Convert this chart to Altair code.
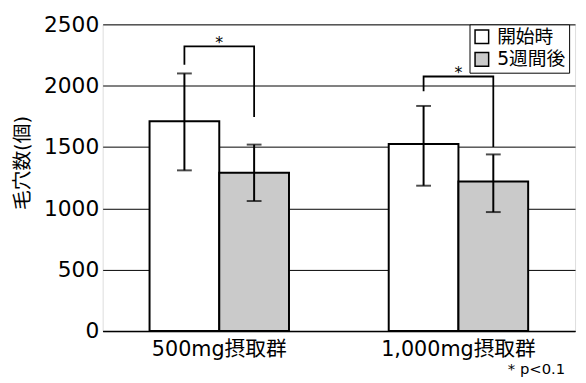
import altair as alt
import pandas as pd

groups = ["500mg摂取群", "1,000mg摂取群"]
periods = ["開始時", "5週間後"]
means = [1710, 1290, 1525, 1220]
err_low = [1310, 1060, 1185, 970]
err_high = [2100, 1520, 1835, 1440]
bracket_top = [2320, 2075]
bracket_left_end = [2170, 1955]
bracket_right_end = [1745, 1500]
star_y = [2350, 2105]
y_ticks = [0, 500, 1000, 1500, 2000, 2500]

FONT = "DejaVu Sans, Noto Sans CJK JP"

rows = []
for i, g in enumerate(groups):
    for j, p in enumerate(periods):
        k = i * 2 + j
        rows.append(dict(group=g, period=p, mean=means[k], lo=err_low[k], hi=err_high[k]))
bars_df = pd.DataFrame(rows)

br = []
for i, g in enumerate(groups):
    br += [
        dict(group=g, period=periods[0], v=bracket_left_end[i], o=0, b=i),
        dict(group=g, period=periods[0], v=bracket_top[i], o=1, b=i),
        dict(group=g, period=periods[1], v=bracket_top[i], o=2, b=i),
        dict(group=g, period=periods[1], v=bracket_right_end[i], o=3, b=i),
    ]
br_df = pd.DataFrame(br)
star_df = pd.DataFrame(dict(group=groups, v=star_y, s=["*", "*"]))

xscale = alt.Scale(domain=groups, paddingInner=0.417, paddingOuter=0.196)
xaxis = alt.Axis(title=None, labelAngle=0, labelFontSize=21, labelFont=FONT,
                 labelColor="black", ticks=False, domainColor="black",
                 domainWidth=1.5, labelPadding=8)
yscale = alt.Scale(domain=[0, 2500], nice=False)
yaxis = alt.Axis(values=y_ticks, format="d", title="毛穴数(個)", titleFont=FONT, titleFontSize=20,
                 titleFontWeight="normal", titleColor="black", titleAngle=-90,
                 titleX=-81, titleY=140, titleAlign="center", titleBaseline="middle",
                 labelFont=FONT, labelFontSize=22, labelColor="black", labelPadding=4,
                 grid=True, gridColor="black", gridWidth=1, ticks=False, domain=False)
xo = alt.XOffset("period:N", sort=periods, scale=alt.Scale(domain=periods, paddingInner=0, paddingOuter=0))

color = alt.Color("period:N", sort=periods,
                  scale=alt.Scale(domain=periods, range=["white", "#cacaca"]),
                  legend=alt.Legend(title=None, orient="none", legendX=372, legendY=0,
                                    symbolType="square", symbolSize=190,
                                    symbolStrokeColor="black", symbolStrokeWidth=1.5,
                                    labelFont=FONT, labelFontSize=19, labelColor="black",
                                    labelOffset=6,
                                    strokeColor="black", fillColor="white", padding=3,
                                    rowPadding=2))

base = alt.Chart(bars_df)
bars = base.mark_bar(stroke="black", strokeWidth=2).encode(
    x=alt.X("group:N", scale=xscale, axis=xaxis),
    xOffset=xo,
    y=alt.Y("mean:Q", scale=yscale, axis=yaxis),
    fill=color,
)
err = base.mark_rule(color="black", strokeWidth=2).encode(
    x=alt.X("group:N", scale=xscale), xOffset=xo,
    y=alt.Y("lo:Q", scale=yscale), y2="hi:Q",
)
cap_hi = base.mark_tick(color="black", thickness=2, size=15).encode(
    x=alt.X("group:N", scale=xscale), xOffset=xo, y=alt.Y("hi:Q", scale=yscale),
)
cap_lo = base.mark_tick(color="black", thickness=2, size=15).encode(
    x=alt.X("group:N", scale=xscale), xOffset=xo, y=alt.Y("lo:Q", scale=yscale),
)
brackets = alt.Chart(br_df).mark_line(color="black", strokeWidth=1.8).encode(
    x=alt.X("group:N", scale=xscale), xOffset=xo,
    y=alt.Y("v:Q", scale=yscale), detail="b:N", order="o:Q",
)
stars = alt.Chart(star_df).mark_text(fontSize=16, font=FONT, color="black", baseline="middle").encode(
    x=alt.X("group:N", scale=xscale), y=alt.Y("v:Q", scale=yscale), text="s:N",
)

chart = alt.layer(bars, err, cap_hi, cap_lo, brackets, stars).properties(
    width=479, height=311,
    autosize=alt.AutoSizeParams(type="none"),
    padding={"left": 96, "top": 14, "right": 3, "bottom": 46},
    title=alt.TitleParams("* p<0.1", orient="bottom", anchor="end", fontSize=15,
                          font=FONT, fontWeight="normal", color="black", offset=3, dx=-10),
).configure_view(stroke="black", strokeWidth=1.5).configure(background="white")

chart.save("out.html", embed_options={"renderer": "svg", "actions": False})
